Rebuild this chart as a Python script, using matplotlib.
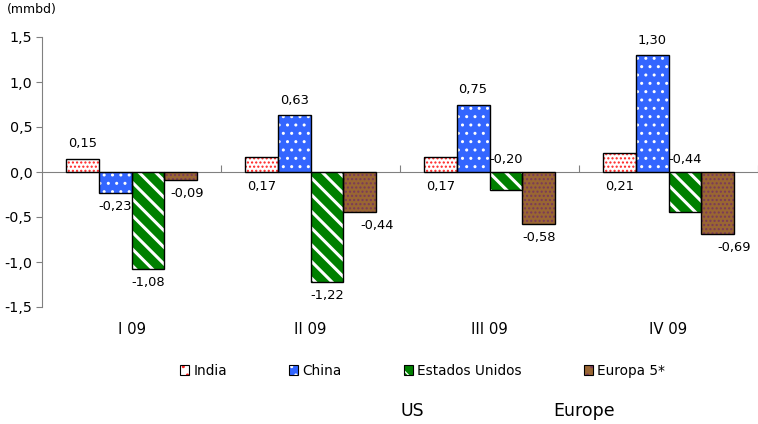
import numpy as np
import matplotlib
matplotlib.use("Agg")
import matplotlib.pyplot as plt
from matplotlib.patches import Patch
from matplotlib.legend_handler import HandlerTuple
from matplotlib.ticker import FuncFormatter
import matplotlib.transforms as mtransforms

plt.rcParams["font.family"] = ["DejaVu Sans"]

quarters = ["I 09", "II 09", "III 09", "IV 09"]
series = ["India", "China", "Estados Unidos", "Europa 5*"]
india = [0.15, 0.17, 0.17, 0.21]
china = [-0.23, 0.63, 0.75, 1.30]
usa = [-1.08, -1.22, -0.20, -0.44]
europe = [-0.09, -0.44, -0.58, -0.69]

# face colour, hatch colour, hatch pattern
styles = [
    ("white", "#ff2020", "...."),
    ("#3366ff", "white", ".."),
    ("#008000", "white", "\\\\"),
    ("#996633", "#7a3a5a", "...."),
]


def fmt(v):
    return f"{v:.2f}".replace(".", ",")


fig = plt.figure(figsize=(7.58, 4.24), dpi=100)
ax = fig.add_axes([42 / 758, 117 / 424, 716 / 758, 270 / 424])

x = np.arange(len(quarters))
w = 0.183
offs = np.array([-1.5, -0.5, 0.5, 1.5]) * w
handles = []
for i, vals in enumerate([india, china, usa, europe]):
    face, hcol, hatch = styles[i]
    lw_h = 2.2 if i == 2 else 1.0
    with plt.rc_context({"hatch.linewidth": lw_h}):
        hb = ax.bar(x + offs[i], vals, w, color=face, edgecolor=hcol,
                    hatch=hatch, linewidth=0, zorder=2)
        for p in hb:
            if hasattr(p, "set_hatch_linewidth"):
                p.set_hatch_linewidth(lw_h)
    ax.bar(x + offs[i], vals, w, facecolor="none", edgecolor="black",
           linewidth=1.0, zorder=3)
    with plt.rc_context({"hatch.linewidth": 1.0}):
        h1 = Patch(facecolor=face, edgecolor=hcol, hatch=hatch[:2], linewidth=0)
    h2 = Patch(facecolor="none", edgecolor="black", linewidth=0.8)
    handles.append((h1, h2))

    # value labels, mostly outside the bar end as in the original
    for j, v in enumerate(vals):
        xp = x[j] + offs[i]
        dx = 0
        if i == 0 and j > 0:
            yp, va, dy = 0, "top", -8
        elif i == 2 and j >= 2:
            yp, va, dy = 0, "bottom", 6
        elif v >= 0:
            yp, va, dy = v, "bottom", 8
        else:
            yp, va, dy = v, "top", -7
        if i == 3:
            dx = [6, 17, 0, 16][j]
        tr = mtransforms.offset_copy(ax.transData, fig=fig, x=dx, y=dy, units="dots")
        ax.text(xp, yp, fmt(v), transform=tr, ha="center", va=va, fontsize=9.4)

ax.set_xlim(-0.5, 3.5)
ax.set_ylim(-1.5, 1.5)
ax.set_yticks([-1.5, -1.0, -0.5, 0.0, 0.5, 1.0, 1.5])
ax.yaxis.set_major_formatter(FuncFormatter(lambda v, p: f"{v:.1f}".replace(".", ",")))
ax.tick_params(axis="y", direction="out", length=4, color="#808080",
               labelsize=10.3, pad=3)
ax.set_xticks([0.5, 1.5, 2.5, 3.5])
ax.set_xticklabels([])
ax.tick_params(axis="x", direction="in", length=5, color="#808080")
for s in ["top", "right"]:
    ax.spines[s].set_visible(False)
ax.spines["bottom"].set_position(("data", 0))
ax.spines["bottom"].set_color("#808080")
ax.spines["left"].set_color("#808080")

lab_tr = mtransforms.blended_transform_factory(ax.transData, ax.transAxes)
for j, q in enumerate(quarters):
    ax.text(x[j], -23 / 270, q, transform=lab_tr, ha="center", va="center",
            fontsize=10.7)

fig.text(7 / 758, 1 - 10 / 424, "(mmbd)", ha="left", va="center", fontsize=9)

fig.legend(handles, series, handler_map={tuple: HandlerTuple(ndivide=1, pad=0)},
           loc="center", bbox_to_anchor=(422.5 / 758, 1 - 371 / 424), ncol=4,
           frameon=False, fontsize=9.8, handlelength=0.7, handleheight=0.7,
           handletextpad=0.3, columnspacing=4.55)

fig.text(400 / 758, 1 - 411 / 424, "US", ha="left", va="center", fontsize=12.5)
fig.text(553 / 758, 1 - 411 / 424, "Europe", ha="left", va="center", fontsize=12.5)

fig.savefig("out.png", dpi=100)
